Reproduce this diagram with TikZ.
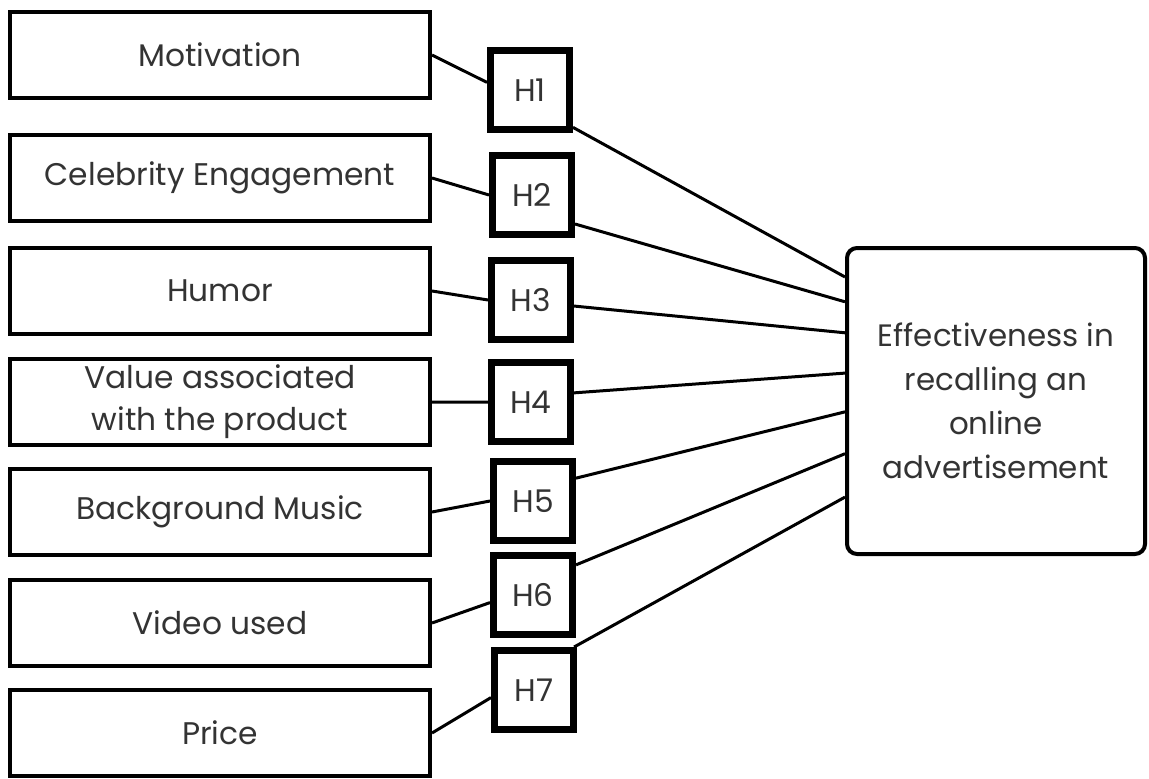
\documentclass[tikz,border=0pt]{standalone}
\usepackage{fontspec}
\setmainfont{Poppins}
\usetikzlibrary{positioning,calc}

\begin{document}
\begin{tikzpicture}[
        factor/.style={draw, rectangle, line width=0.08cm, minimum width=8.4cm, minimum height=1.72cm, align=center, text=black!80, font=\fontsize{17.8}{24}\selectfont},
        hyp/.style={draw, rectangle, line width=0.14cm, minimum width=1.58cm, minimum height=1.58cm, inner sep=0pt, text=black!80, font=\fontsize{17.8}{24}\selectfont},
        outcome/.style={draw, rectangle, rounded corners=0.2cm, line width=0.08cm, minimum width=5.96cm, minimum height=6.12cm, align=center, text=black!80, font=\fontsize{17.6}{25}\selectfont},
        link/.style={line width=0.06cm}
    ]
        \useasboundingbox (0,0) rectangle (22.98,-15.56);

        % Fatores
        \node[factor] (m1) at (4.4,-1.1) {Motivation};
        \node[factor, below=0.66cm of m1] (m2) {Celebrity Engagement};
        \node[factor, below=0.46cm of m2] (m3) {Humor};
        \node[factor, below=0.42cm of m3] (m4) {Value associated\\with the product};
        \node[factor, below=0.40cm of m4] (m5) {Background Music};
        \node[factor, below=0.42cm of m5] (m6) {Video used};
        \node[factor, below=0.40cm of m6] (m7) {Price};

        % Hipoteses
        \node[hyp] (h1) at (10.6,-1.80) {H1};
        \node[hyp] (h2) at (10.64,-3.90) {H2};
        \node[hyp] (h3) at (10.62,-6.00) {H3};
        \node[hyp] (h4) at (10.62,-8.04) {H4};
        \node[hyp] (h5) at (10.66,-10.02) {H5};
        \node[hyp] (h6) at (10.66,-11.90) {H6};
        \node[hyp] (h7) at (10.68,-13.80) {H7};

        % Resultado
        \node[outcome] (eff) at (19.92,-8.02) {Effectiveness in\\recalling an\\online\\advertisement};

        % Conexoes
        \draw[link] (m1.east) -- (h1.170);
        \draw[link] (m2.east) -- (h2.west);
        \draw[link] (m3.east) -- (h3.west);
        \draw[link] (m4.east) -- (h4.west);
        \draw[link] (m5.east) -- (h5.west);
        \draw[link] (m6.east) -- (h6.190);
        \draw[link] (m7.east) -- (h7.190);

        \draw[link] (h1.-41) -- ($(eff.north west)!0.10!(eff.south west)$);
        \draw[link] (h2.-34) -- ($(eff.north west)!0.18!(eff.south west)$);
        \draw[link] (h3.-8) -- ($(eff.north west)!0.28!(eff.south west)$);
        \draw[link] (h4.12) -- ($(eff.north west)!0.41!(eff.south west)$);
        \draw[link] (h5.28) -- ($(eff.north west)!0.535!(eff.south west)$);
        \draw[link] (h6.35) -- ($(eff.north west)!0.67!(eff.south west)$);
        \draw[link] (h7.47) -- ($(eff.north west)!0.81!(eff.south west)$);
    \end{tikzpicture}
\end{document}
